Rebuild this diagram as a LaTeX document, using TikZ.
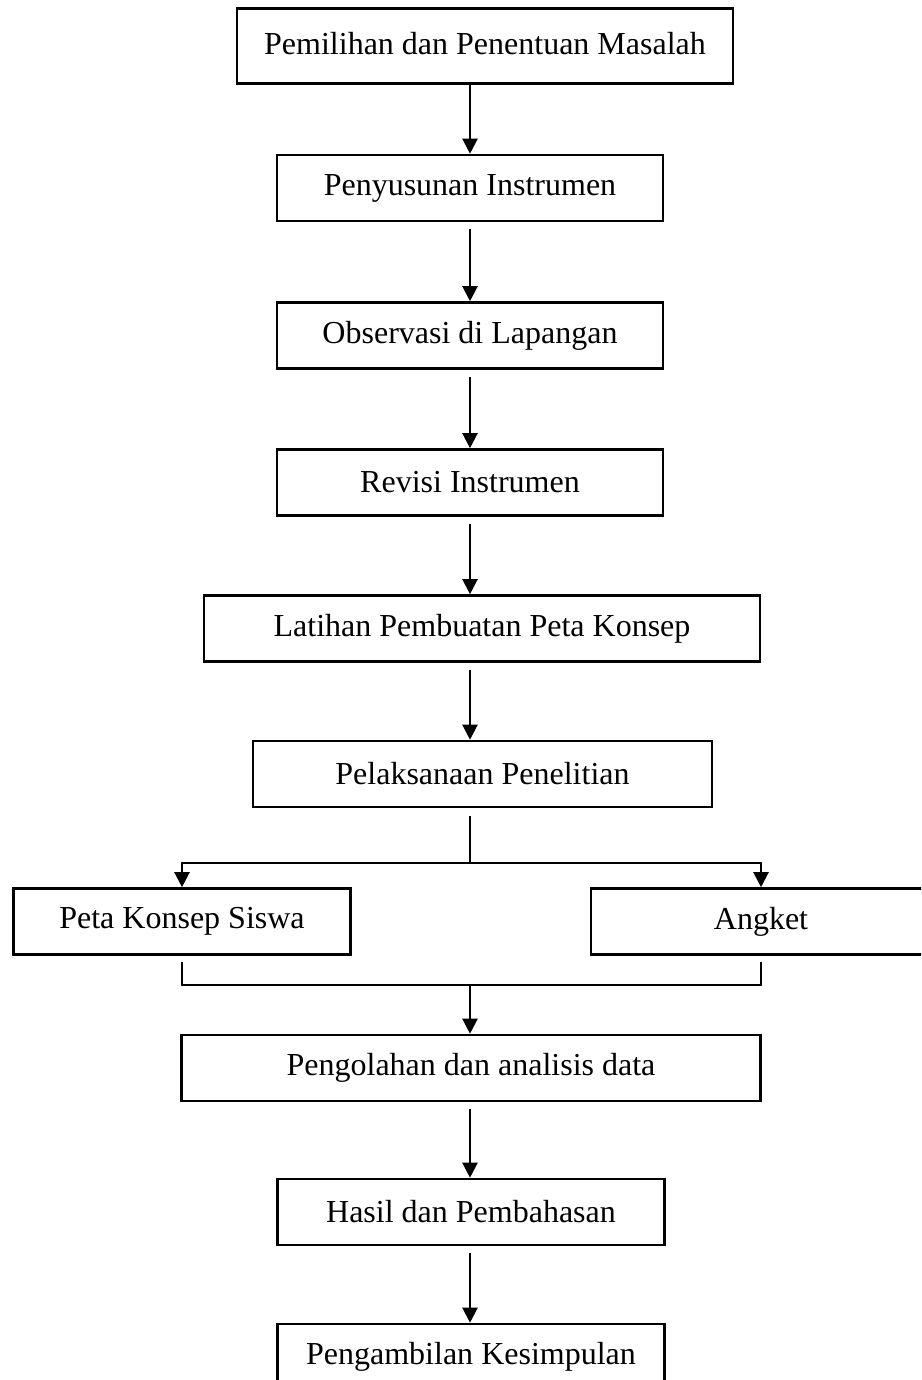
\documentclass[tikz,border=0pt]{standalone}
\usepackage{fontspec}
\setmainfont{Liberation Serif}
\usepackage{tikz}
\usetikzlibrary{arrows.meta,positioning,calc}
\tikzset{
    stage/.style={draw, rectangle, line width=2.6pt, inner sep=0pt, minimum height=66pt, font=\fontsize{32}{38}\selectfont},
    flow/.style={-{Triangle[length=15pt, width=15pt]}, line width=2.2pt},
    link/.style={line width=2.2pt}
}

\begin{document}
\begin{tikzpicture}[x=1pt, y=-1pt]
    \clip (0,0) rectangle (921,1380);
    \node[stage, minimum width=496pt, minimum height=75pt, text depth=6pt] (masalah) at (485,46) {Pemilihan dan Penentuan Masalah};
    \node[stage, minimum width=386pt] (susun) at (470,188) {Penyusunan Instrumen};
    \node[stage, minimum width=386pt] (observasi) at (470,335.5) {Observasi di Lapangan};
    \node[stage, minimum width=386pt] (revisi) at (470,482.5) {Revisi Instrumen};
    \node[stage, minimum width=556pt] (latihan) at (482,628.5) {Latihan Pembuatan Peta Konsep};
    \node[stage, minimum width=459pt] (pelaksanaan) at (482.5,774) {Pelaksanaan Penelitian};
    \node[stage, minimum width=337pt] (petasiswa) at (182,921.5) {Peta Konsep Siswa};
    \node[stage, minimum width=340pt] (angket) at (761,921.5) {Angket};
    \node[stage, minimum width=579pt] (olah) at (471,1068) {Pengolahan dan analisis data};
    \node[stage, minimum width=387pt] (hasil) at (471,1212) {Hasil dan Pembahasan};
    \node[stage, minimum width=387pt] (simpulan) at (471,1357) {Pengambilan Kesimpulan};

    \coordinate (split) at (470,863);
    \coordinate (merge) at (470,985);

    \draw[flow] (masalah.south -| susun.north) -- (susun.north);
    \draw[flow, shorten <=7pt] (susun.south) -- (observasi.north);
    \draw[flow, shorten <=7pt] (observasi.south) -- (revisi.north);
    \draw[flow, shorten <=7pt] (revisi.south) -- (revisi.south |- latihan.north);
    \draw[flow, shorten <=7pt] (latihan.south -| split) -- (pelaksanaan.north -| split);
    \draw[link, shorten <=8pt] (pelaksanaan.south -| split) -- (split);
    \draw[flow] (split) -| (petasiswa.north);
    \draw[flow] (split) -| (angket.north);
    \draw[link] ([yshift=-6pt]petasiswa.south) |- (merge) -| ([yshift=-6pt]angket.south);
    \draw[flow] (merge) -- (olah.north -| merge);
    \draw[flow, shorten <=7pt] (olah.south -| merge) -- (hasil.north -| merge);
    \draw[flow, shorten <=7pt] (hasil.south -| merge) -- (simpulan.north -| merge);
\end{tikzpicture}
\end{document}
